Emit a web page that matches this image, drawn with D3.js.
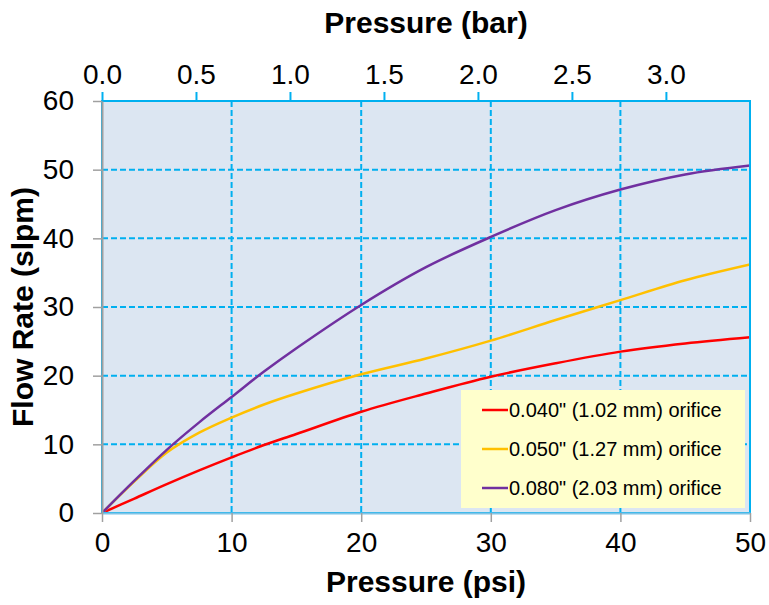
<!DOCTYPE html>
<html>
<head>
<meta charset="utf-8">
<script src="https://cdn.jsdelivr.net/npm/d3@7"></script>
<style>
  body { margin: 0; background: #fff; }
  svg { font-family: "Liberation Sans", Arial, sans-serif; }
</style>
</head>
<body>
<svg id="chart" width="769" height="605"></svg>
<script>
(function(){

	// pressure in psi, flow in slpm
	var psi     = [0, 2.5, 5, 7.5, 10, 12.5, 15, 20, 25, 30, 35, 40, 45, 50];
	var flow040 = [0, 2.1, 4.2, 6.2, 8.1, 9.9, 11.5, 14.75, 17.4, 19.85, 21.8, 23.5, 24.7, 25.6];
	var flow050 = [0, 4.6, 8.8, 11.7, 13.9, 15.8, 17.4, 20.2, 22.5, 25.1, 28.1, 31.0, 33.9, 36.2];
	var flow080 = [0, 4.7, 9.2, 13.2, 16.9, 20.6, 24.0, 30.3, 35.8, 40.2, 44.1, 47.1, 49.3, 50.6];

	var seriesNames = ['0.040" (1.02 mm) orifice', '0.050" (1.27 mm) orifice', '0.080" (2.03 mm) orifice'];
	var seriesColors = ["#ff0000", "#ffc000", "#7030a0"];

	var psiTicks = [0, 10, 20, 30, 40, 50];
	var barTicks = [0, 0.5, 1.0, 1.5, 2.0, 2.5, 3.0];
	var flowTicks = [0, 10, 20, 30, 40, 50, 60];
	var psiPerBar = 14.5038;

	var left = 102, right = 750, top = 101, bottom = 513;

	var svg = d3.select("#chart");

	var x = d3.scaleLinear().domain([0, 50]).range([left, right]);
	var xBar = d3.scaleLinear().domain([0, 50 / psiPerBar]).range([left, right]);
	var y = d3.scaleLinear().domain([0, 60]).range([bottom, top]);

	// plot background
	svg.append("rect")
		.attr("x", left).attr("y", top)
		.attr("width", right - left).attr("height", bottom - top)
		.attr("fill", "#dce6f2");

	// dashed grid
	var grid = svg.append("g").attr("stroke", "#00b0f0").attr("stroke-width", 2).attr("stroke-dasharray", "6,3");
	grid.selectAll(".gx").data(psiTicks.slice(1, -1)).enter().append("line")
		.attr("x1", function(d){ return x(d); }).attr("x2", function(d){ return x(d); })
		.attr("y1", top).attr("y2", bottom);
	grid.selectAll(".gy").data(flowTicks.slice(1, -1)).enter().append("line")
		.attr("x1", left).attr("x2", right)
		.attr("y1", function(d){ return y(d); }).attr("y2", function(d){ return y(d); });

	// curves
	var series = [flow040, flow050, flow080];
	var line = d3.line()
		.x(function(d, i){ return x(psi[i]); })
		.y(function(d){ return y(d); })
		.curve(d3.curveCatmullRom.alpha(0.5));

	svg.append("clipPath").attr("id", "clip").append("rect")
		.attr("x", left).attr("y", top).attr("width", right - left).attr("height", bottom - top);

	svg.append("g").attr("clip-path", "url(#clip)")
		.selectAll("path").data(series).enter().append("path")
		.attr("d", line)
		.attr("fill", "none")
		.attr("stroke", function(d, i){ return seriesColors[i]; })
		.attr("stroke-width", 2.5);

	// plot border
	svg.append("rect")
		.attr("x", left).attr("y", top)
		.attr("width", right - left).attr("height", bottom - top)
		.attr("fill", "none").attr("stroke", "#00b0f0").attr("stroke-width", 2);

	// bottom axis (psi)
	var xAxis = svg.append("g").attr("transform", "translate(0," + bottom + ")")
		.call(d3.axisBottom(x).tickValues(psiTicks).tickSize(9).tickSizeOuter(0).tickPadding(10));
	xAxis.select(".domain").attr("stroke", "#7fc3e6").attr("stroke-width", 2);
	xAxis.selectAll(".tick line").attr("stroke", "#a0a0a0").attr("stroke-width", 1.5);
	xAxis.selectAll("text").attr("font-size", 28).attr("fill", "#000").attr("font-family", "Liberation Sans, Arial, sans-serif");

	// top axis (bar)
	var xTop = svg.append("g").attr("transform", "translate(0," + top + ")")
		.call(d3.axisTop(xBar).tickValues(barTicks).tickFormat(d3.format(".1f")).tickSize(9).tickSizeOuter(0).tickPadding(8));
	xTop.select(".domain").remove();
	xTop.selectAll(".tick line").attr("stroke", "#00b0f0").attr("stroke-width", 2);
	xTop.selectAll("text").attr("font-size", 28).attr("fill", "#000").attr("font-family", "Liberation Sans, Arial, sans-serif");

	// left axis (slpm)
	var yAxis = svg.append("g").attr("transform", "translate(" + left + ",0)")
		.call(d3.axisLeft(y).tickValues(flowTicks).tickSize(9).tickSizeOuter(0).tickPadding(19));
	yAxis.select(".domain").attr("stroke", "#a0a0a0").attr("stroke-width", 2);
	yAxis.selectAll(".tick line").attr("stroke", "#a0a0a0").attr("stroke-width", 1.5);
	yAxis.selectAll("text").attr("font-size", 28).attr("fill", "#000").attr("font-family", "Liberation Sans, Arial, sans-serif");

	// axis titles
	svg.append("text").attr("x", (left + right) / 2).attr("y", 592)
		.attr("text-anchor", "middle").attr("font-size", 30).attr("font-weight", "bold")
		.text("Pressure (psi)");
	svg.append("text").attr("x", (left + right) / 2).attr("y", 33)
		.attr("text-anchor", "middle").attr("font-size", 30).attr("font-weight", "bold")
		.text("Pressure (bar)");
	svg.append("text")
		.attr("transform", "translate(33," + ((top + bottom) / 2) + ") rotate(-90)")
		.attr("text-anchor", "middle").attr("font-size", 30).attr("font-weight", "bold")
		.text("Flow Rate (slpm)");

	// legend
	var legend = svg.append("g");
	legend.append("rect")
		.attr("x", 461).attr("y", 390).attr("width", 284).attr("height", 118)
		.attr("fill", "#ffffcc");
	var rows = legend.selectAll(".row").data(seriesNames).enter().append("g")
		.attr("transform", function(d, i){ return "translate(0," + (410 + i * 39) + ")"; });
	rows.append("line")
		.attr("x1", 482).attr("x2", 508).attr("y1", 0).attr("y2", 0)
		.attr("stroke", function(d, i){ return seriesColors[i]; })
		.attr("stroke-width", 2.5);
	rows.append("text")
		.attr("x", 509).attr("y", 0).attr("dy", "0.35em")
		.attr("font-size", 20).attr("fill", "#000")
		.text(function(d){ return d; });

})();
</script>
</body>
</html>
